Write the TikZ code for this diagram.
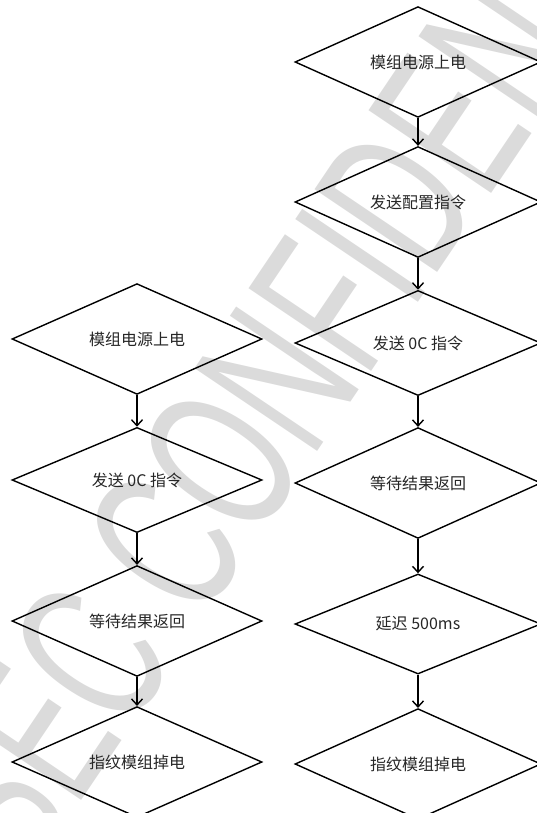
\documentclass[tikz,border=0pt]{standalone}
\usepackage{fontspec}
\newfontfamily\cjkfont{Noto Sans CJK SC}
\newfontfamily\markfont[FakeStretch=0.62]{Liberation Sans}
\usetikzlibrary{arrows.meta,shapes.geometric}

\begin{document}
\begin{tikzpicture}[x=1pt,y=-1pt,>={Straight Barb[length=6pt,width=11pt]},auto,
    stepbox/.style={shape=diamond,draw=black,line width=1.4pt,minimum width=246pt,minimum height=100pt,inner sep=0pt,font=\cjkfont\fontsize{16}{19}\selectfont,text=black!85}]
                \useasboundingbox (0,0) rectangle (537,813);
                \clip (0,0) rectangle (537,813);
                % watermark
                \node[rotate=56,text=black!14,font=\markfont\fontsize{215}{215}\selectfont](mark)at(325, 308){SEC CONFIDENTIAL};
                % right column
                \node[stepbox](r0)at(418, 62){模组电源上电};
                \node[stepbox](r1)at(418, 202){发送配置指令};
                \node[stepbox](r2)at(418, 343){发送 0C 指令};
                \node[stepbox](r3)at(418, 483){等待结果返回};
                \node[stepbox](r4)at(418, 624){延迟 500ms};
                \node[stepbox](r5)at(418, 764){指纹模组掉电};
                % left column
                \node[stepbox,minimum width=250pt](l0)at(137, 339){模组电源上电};
                \node[stepbox,minimum width=250pt](l1)at(137, 480){发送 0C 指令};
                \node[stepbox,minimum width=250pt](l2)at(137, 621){等待结果返回};
                \node[stepbox,minimum width=250pt](l3)at(137, 762){指纹模组掉电};
                \path[->,line width=1.4pt](r0) edge (r1)
                (r1) edge (r2)
                (r2) edge (r3)
                (r3) edge (r4)
                (r4) edge (r5)
                (l0) edge (l1)
                (l1) edge (l2)
                (l2) edge (l3);
            \end{tikzpicture}
\end{document}
